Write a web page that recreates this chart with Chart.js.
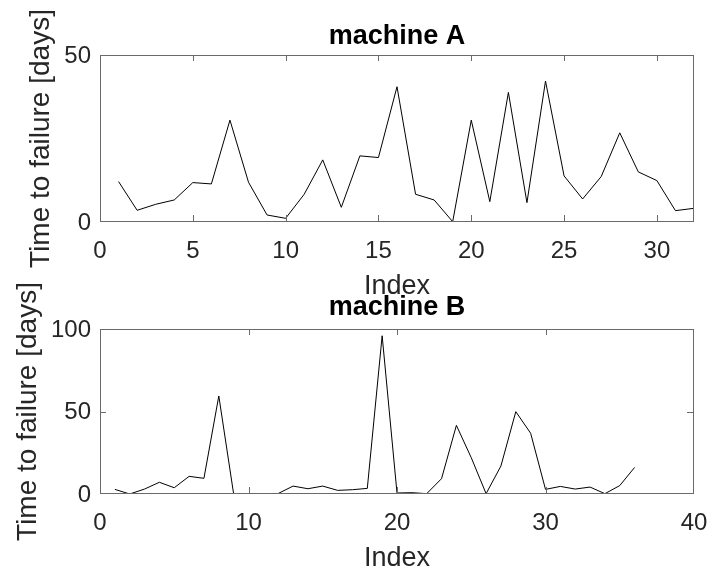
<!DOCTYPE html>
<html>
<head>
<meta charset="utf-8">
<script src="https://cdn.jsdelivr.net/npm/chart.js@4/dist/chart.umd.min.js"></script>
<style>
  html, body { margin: 0; padding: 0; background: #fff; }
  #wrap { position: relative; width: 710px; height: 571px; }
  canvas { position: absolute; left: 0; top: 0; }
</style>
</head>
<body>
<div id="wrap">
  <canvas id="chartA" width="710" height="571"></canvas>
  <canvas id="chartB" width="710" height="571"></canvas>
</div>
<script>
// machine A
const indexA = [1,2,3,4,5,6,7,8,9,10,11,12,13,14,15,16,17,18,19,20,21,22,23,24,25,26,27,28,29,30,31,32];
const failA = [12.1, 3.5, 5.3, 6.6, 11.8, 11.4, 30.5, 11.9, 2.1, 1.1, 8.3, 18.6, 4.4, 19.8, 19.3, 40.5,
               8.3, 6.6, 0.1, 30.5, 6.1, 38.8, 5.8, 42.2, 13.8, 6.9, 13.6, 26.7, 15.0, 12.4, 3.4, 4.1];
const xTicksA = [0, 5, 10, 15, 20, 25, 30];
const yTicksA = [0, 50];

// machine B
const indexB = [1,2,3,4,5,6,7,8,9,10,11,12,13,14,15,16,17,18,19,20,21,22,23,24,25,26,27,28,29,30,31,32,33,34,35,36];
const failB = [2.8, 0, 3, 7.1, 3.8, 10.7, 9.5, 59.4, 0, 0, 0.3, 0.3, 4.8, 3.2, 4.8, 2.2, 2.6, 3.4, 95.9,
               0.6, 0.8, 0.2, 9.3, 41.6, 22.0, 0.2, 17, 49.9, 36.8, 2.8, 4.6, 3, 4.2, 0.2, 5.1, 16.1];
const xTicksB = [0, 10, 20, 30, 40];
const yTicksB = [0, 50, 100];

const FONT = '"Liberation Sans", Arial, Helvetica, sans-serif';
const TXT = '#262626';
const BOX = '#6a6a6a';

// matlab style box with inward ticks on all four sides
const boxPlugin = {
    id: 'mbox',
    afterDraw(chart) {
        const {ctx, chartArea: a} = chart;
        const sx = chart.scales.x, sy = chart.scales.y;
        const L = Math.round(a.left), R = Math.round(a.right) - 1;
        const T = Math.round(a.top), B = Math.round(a.bottom) - 1;
        const len = 6;
        ctx.save();
        ctx.fillStyle = BOX;
        ctx.fillRect(L, T, R - L + 1, 1);
        ctx.fillRect(L, B, R - L + 1, 1);
        ctx.fillRect(L, T, 1, B - T + 1);
        ctx.fillRect(R, T, 1, B - T + 1);
        sx.ticks.forEach(t => {
            const px = Math.min(Math.round(sx.getPixelForValue(t.value)), R);
            ctx.fillRect(px, B - len, 1, len);
            ctx.fillRect(px, T, 1, len);
        });
        sy.ticks.forEach(t => {
            const py = Math.min(Math.round(sy.getPixelForValue(t.value)), B);
            ctx.fillRect(L, py, len, 1);
            ctx.fillRect(R - len, py, len, 1);
        });
        ctx.restore();
    }
};

function makeChart(id, o) {
    const pts = o.index.map((x, i) => ({x, y: o.values[i]}));
    return new Chart(document.getElementById(id), {
        type: 'line',
        data: {
            datasets: [{
                data: pts,
                borderColor: '#000',
                borderWidth: 1,
                pointRadius: 0,
                tension: 0,
                fill: false
            }]
        },
        options: {
            responsive: false,
            animation: false,
            devicePixelRatio: 1,
            layout: { padding: o.padding },
            plugins: {
                legend: { display: false },
                tooltip: { enabled: false },
                title: { display: false }
            },
            scales: {
                x: {
                    type: 'linear',
                    min: o.xTicks[0],
                    max: o.xMax,
                    afterBuildTicks: s => { s.ticks = o.xTicks.map(v => ({value: v})); },
                    afterFit: s => { s.height = 75.3; s.paddingLeft = 0; s.paddingRight = 0; },
                    grid: { display: false, drawTicks: false },
                    border: { display: false },
                    ticks: {
                        color: TXT, padding: 17.5, maxRotation: 0, autoSkip: false,
                        font: { family: FONT, size: 24, lineHeight: 1 }
                    },
                    title: {
                        display: true, text: 'Index', color: TXT,
                        font: { family: FONT, size: 27, lineHeight: 1 },
                        padding: { top: 0, bottom: -2.5 }
                    }
                },
                // top axis only carries the subplot title, centred over the plot box
                x2: {
                    type: 'linear',
                    position: 'top',
                    min: o.xTicks[0],
                    max: o.xMax,
                    afterFit: s => { s.height = o.topH; s.paddingLeft = 0; s.paddingRight = 0; },
                    grid: { display: false, drawTicks: false },
                    border: { display: false },
                    ticks: { display: false },
                    title: {
                        display: true, text: o.title, color: '#000',
                        font: { family: FONT, size: 27, weight: 'bold', lineHeight: 1 },
                        padding: { top: o.titleTop, bottom: 0 }
                    }
                },
                y: {
                    min: o.yTicks[0],
                    max: o.yTicks[o.yTicks.length - 1],
                    afterBuildTicks: s => { s.ticks = o.yTicks.map(v => ({value: v})); },
                    afterFit: s => { s.width = 100; s.paddingTop = 0; s.paddingBottom = 0; },
                    grid: { display: false, drawTicks: false },
                    border: { display: false },
                    ticks: {
                        color: TXT, padding: 9, autoSkip: false, labelOffset: 1,
                        font: { family: FONT, size: 24, lineHeight: 1 }
                    },
                    title: {
                        display: true, text: 'Time to failure [days]', color: TXT,
                        font: { family: FONT, size: 28, lineHeight: 1 },
                        padding: { top: o.yTitleLeft, bottom: 0 }
                    }
                }
            }
        },
        plugins: [boxPlugin]
    });
}

makeChart('chartA', {
    title: 'machine A', index: indexA, values: failA, xTicks: xTicksA, xMax: 32, yTicks: yTicksA,
    padding: { top: 0, left: 0, right: 16, bottom: 273.7 },
    topH: 55, titleTop: 22.7, yTitleLeft: 27.5
});
makeChart('chartB', {
    title: 'machine B', index: indexB, values: failB, xTicks: xTicksB, xMax: 40, yTicks: yTicksB,
    padding: { top: 285, left: 0, right: 16, bottom: 1.7 },
    topH: 44, titleTop: 9.2, yTitleLeft: 14
});
</script>
</body>
</html>
